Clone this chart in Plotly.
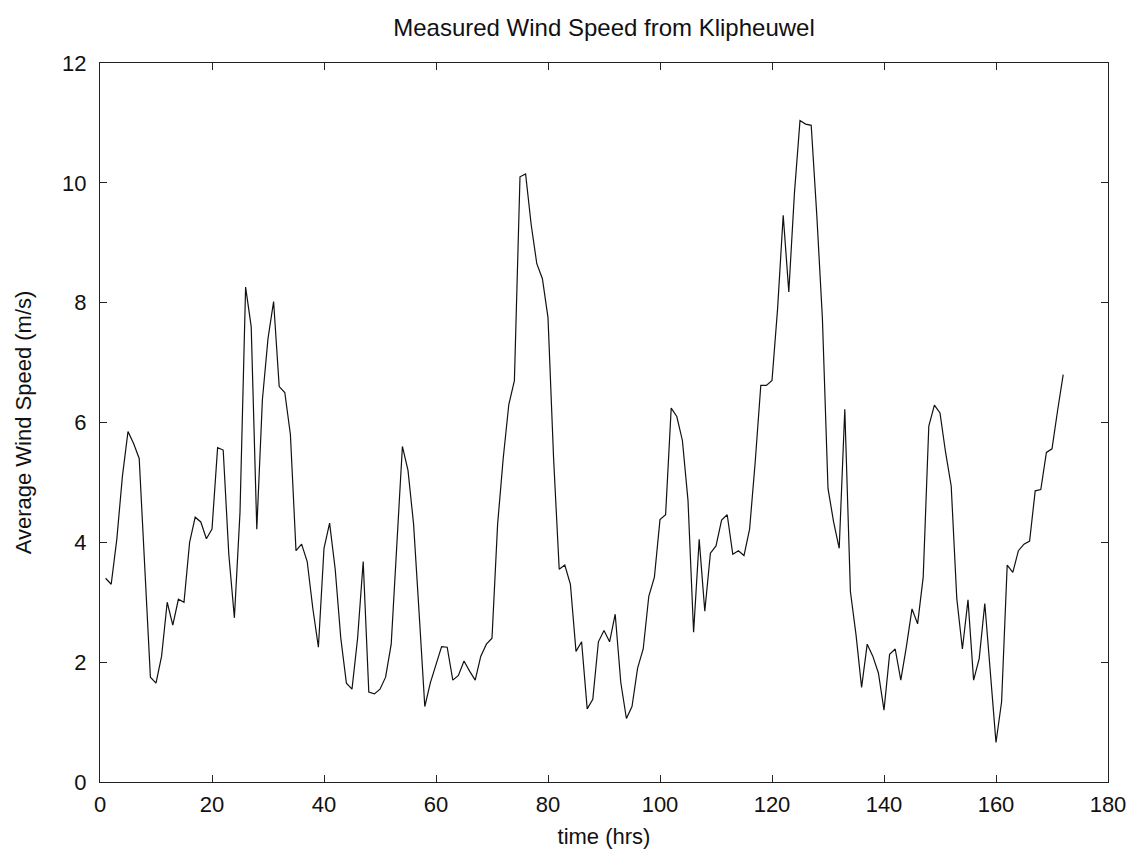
import plotly.graph_objects as go

hours = list(range(1, 173))
wind_speed = [
    3.4, 3.3, 4.05, 5.1, 5.85, 5.65, 5.4, 3.5, 1.75, 1.65,
    2.1, 3.0, 2.62, 3.05, 3.0, 4.0, 4.42, 4.34, 4.06, 4.22,
    5.58, 5.54, 3.8, 2.74, 4.5, 8.26, 7.6, 4.22, 6.38, 7.4,
    8.02, 6.6, 6.5, 5.8, 3.86, 3.97, 3.68, 2.9, 2.25, 3.9,
    4.32, 3.55, 2.4, 1.65, 1.55, 2.4, 3.68, 1.5, 1.47, 1.55,
    1.75, 2.3, 4.0, 5.6, 5.2, 4.3, 2.8, 1.26, 1.66, 1.95,
    2.26, 2.25, 1.7, 1.78, 2.02, 1.85, 1.7, 2.1, 2.3, 2.4,
    4.3, 5.4, 6.3, 6.7, 10.1, 10.15, 9.3, 8.65, 8.4, 7.75,
    5.4, 3.55, 3.62, 3.3, 2.18, 2.34, 1.22, 1.38, 2.34, 2.53,
    2.34, 2.8, 1.66, 1.06, 1.26, 1.9, 2.22, 3.1, 3.42, 4.38,
    4.46, 6.24, 6.1, 5.7, 4.7, 2.5, 4.05, 2.85, 3.82, 3.94,
    4.37, 4.46, 3.8, 3.86, 3.78, 4.22, 5.34, 6.62, 6.62, 6.7,
    7.9, 9.46, 8.18, 9.82, 11.04, 10.98, 10.96, 9.46, 7.74, 4.9,
    4.34, 3.9, 6.22, 3.18, 2.46, 1.58, 2.3, 2.1, 1.82, 1.2,
    2.13, 2.22, 1.7, 2.26, 2.89, 2.64, 3.42, 5.94, 6.29, 6.16,
    5.5, 4.94, 3.06, 2.22, 3.04, 1.7, 2.06, 2.98, 1.74, 0.66,
    1.34, 3.62, 3.5, 3.86, 3.97, 4.02, 4.86, 4.88, 5.5, 5.56,
    6.2, 6.8,
]

x_ticks = [0, 20, 40, 60, 80, 100, 120, 140, 160, 180]
y_ticks = [0, 2, 4, 6, 8, 10, 12]

FONT = "Liberation Sans Narrow, Liberation Sans, Arial, sans-serif"

fig = go.Figure()
fig.add_trace(go.Scatter(
    x=hours, y=wind_speed, mode="lines",
    line=dict(color="#111111", width=1.2),
    showlegend=False,
))

axis_common = dict(
    showgrid=False, zeroline=False, automargin=False,
    showline=True, linecolor="#222222", linewidth=1,
    mirror="ticks", ticks="inside", ticklen=7, tickcolor="#222222",
    tickfont=dict(family=FONT, size=22, color="#111111"),
)

fig.update_layout(
    width=1134, height=853,
    margin=dict(l=100, r=26, t=63, b=71),
    paper_bgcolor="white", plot_bgcolor="white",
    font=dict(family=FONT, color="#111111"),
    title=dict(
        text="Measured Wind Speed from Klipheuwel",
        x=(100 + 1108) / 2 / 1134, xanchor="center",
        y=1 - 28 / 853, yanchor="middle", yref="container",
        font=dict(family=FONT, size=24, color="#111111"),
    ),
    xaxis=dict(
        range=[0, 180], tickvals=x_ticks, ticklabelstandoff=3,
        title=dict(text="time (hrs)", standoff=12,
                   font=dict(family=FONT, size=22, color="#111111")),
        **axis_common,
    ),
    yaxis=dict(
        range=[0, 12], tickvals=y_ticks, ticklabelstandoff=8,
        title=dict(text="Average Wind Speed (m/s)", standoff=24,
                   font=dict(family=FONT, size=22, color="#111111")),
        **axis_common,
    ),
)

fig.write_html("out.html")
